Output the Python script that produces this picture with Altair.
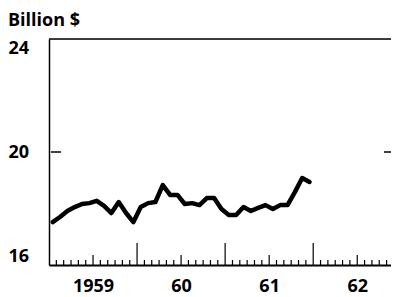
import altair as alt
import pandas as pd

# Monthly data, Jan 1959 .. Dec 1961 (month index from Jan 1959)
months = list(range(36))
values = [17.52, 17.70, 17.91, 18.05, 18.16, 18.19, 18.27, 18.09, 17.84, 18.23, 17.84, 17.52,
          18.05, 18.19, 18.23, 18.83, 18.48, 18.48, 18.16, 18.19, 18.12, 18.37, 18.37, 17.98,
          17.77, 17.77, 18.05, 17.91, 18.02, 18.12, 17.98, 18.12, 18.12, 18.58, 19.08, 18.94]
year_label_pos = [6, 18, 30, 42]
year_labels = ["1959", "60", "61", "62"]
y_ticks = [16, 20, 24]
minor_ticks = [m for m in range(1, 47) if m % 6 != 0]
half_ticks = [6, 18, 30, 42]
year_ticks = [12, 24, 36]
mid_tick = [20]
x_max = 46.6  # visible end of the time axis (chart is cut at the right edge)

W, H = 342, 226
FONT = "Open Sans"

df = pd.DataFrame({"m": [m + 0.5 for m in months], "v": values})

label_expr = " : ".join(
    f"datum.value == {p} ? '{l}'" for p, l in zip(year_label_pos, year_labels)
) + " : ''"

xscale = alt.Scale(domain=[0, x_max], nice=False, zero=False)
yscale = alt.Scale(domain=[16, 24], nice=False, zero=False)

line = alt.Chart(df).mark_line(
    color="black", strokeWidth=4.5, strokeJoin="round", strokeCap="round"
).encode(
    x=alt.X("m:Q", scale=xscale, axis=alt.Axis(
        values=year_label_pos, labelExpr=label_expr, ticks=False, grid=False,
        domainColor="black", domainWidth=2, title=None,
        labelFont=FONT, labelFontSize=18, labelFontWeight="bold", labelColor="black",
        labelPadding=12, labelFlush=False)),
    y=alt.Y("v:Q", scale=yscale, axis=alt.Axis(
        values=y_ticks, ticks=False, grid=False, domainColor="black", domainWidth=1.5,
        title=None, labelAlign="left", labelPadding=41, labelFlush=True,
        labelFont=FONT, labelFontSize=18, labelFontWeight="bold", labelColor="black")),
)

def tick_layer(positions, length):
    d = pd.DataFrame({"m": positions})
    return alt.Chart(d).mark_rule(color="black", strokeWidth=1.2).encode(
        x=alt.X("m:Q", scale=xscale), y=alt.value(H), y2=alt.value(H - length)
    )

minor = tick_layer(minor_ticks, 5)
half = tick_layer(half_ticks, 10)
yearly = tick_layer(year_ticks, 22)

mid_df = pd.DataFrame({"v": mid_tick})
left20 = alt.Chart(mid_df).mark_rule(color="black", strokeWidth=1.5).encode(
    y=alt.Y("v:Q", scale=yscale), x=alt.value(2), x2=alt.value(12)
)
right20 = alt.Chart(mid_df).mark_rule(color="black", strokeWidth=1.5).encode(
    y=alt.Y("v:Q", scale=yscale), x=alt.value(W - 7), x2=alt.value(W)
)
top_df = pd.DataFrame({"v": [24]})
top_line = alt.Chart(top_df).mark_rule(color="black", strokeWidth=1.5).encode(
    y=alt.Y("v:Q", scale=yscale), x=alt.value(0), x2=alt.value(W)
)

chart = alt.layer(top_line, minor, half, yearly, left20, right20, line).properties(
    width=W, height=H,
    title=alt.TitleParams("Billion $", anchor="start", frame="bounds", font=FONT,
                          fontSize=18, fontWeight="bold", color="black", offset=8),
    autosize=alt.AutoSizeParams(type="none"),
    padding={"left": 41, "top": 31, "right": 0, "bottom": 30},
).configure_view(stroke=None).configure(background="white")

chart.save("out.html", embed_options={"renderer": "svg", "actions": False})
